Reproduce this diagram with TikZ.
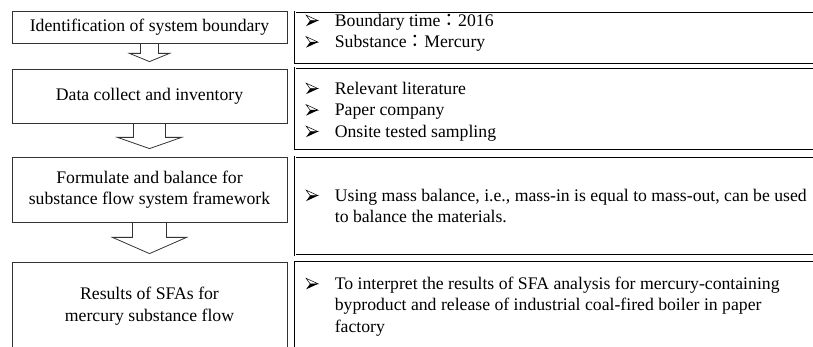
\documentclass[tikz,border=0pt]{standalone}
\usepackage{fontspec}
\setmainfont{Liberation Serif}
\newfontfamily\cjkfont{Noto Sans CJK TC}
\usepackage{tikz}
% arrowhead bullet with a fixed hanging indent
\newcommand{\bul}{\makebox[29pt][l]{\tikz[x=1pt,y=1pt,baseline=0pt]{%
  \draw[line width=0.5pt,line join=miter] (0,11) -- (12,5.5) -- (4,5.5) -- cycle;
  \fill[line join=miter] (4,5.5) -- (12,5.5) -- (0,0) -- cycle;}}}
\newcommand{\hang}{\hspace*{29pt}}
\newcommand{\fwcolon}{{\cjkfont ：}}

\begin{document}
\begin{tikzpicture}[
    x=1pt, y=-1pt,
    font=\fontsize{17.7}{21.5}\selectfont,
    stage/.style={draw=black!80, line width=0.8pt, minimum width=275pt,
                  inner sep=0pt, align=center},
    detail/.style={draw=black, line width=0.7pt, double, double distance=1pt,
                   minimum width=540pt, inner sep=0pt},
    note/.style={anchor=north west, inner sep=0pt, align=left},
    flow/.style={draw=black!80, line width=0.8pt, line join=miter}
]
\clip (0,0) rectangle (813,347);

% left column: the four steps
\node[stage, minimum height=32pt] (s1) at (149.5,27) {Identification of system boundary};
\node[stage, minimum height=54pt] (s2) at (149.5,96) {Data collect and inventory};
\node[stage, minimum height=65pt] (s3) at (149.5,189.5) {Formulate and balance for\\substance flow system framework};
\node[stage, minimum height=88pt] (s4) at (149.5,306) {Results of SFAs for\\mercury substance flow};

% block arrows between the steps
\draw[flow] ([xshift=-9pt]s1.south) |- ([xshift=-20pt,yshift=-10pt]s1.south) -- ([yshift=7pt]s2.north)
            -- ([xshift=20pt,yshift=-10pt]s1.south) -| ([xshift=9pt]s1.south);
\draw[flow] ([xshift=-16pt]s2.south) |- ([xshift=-32pt,yshift=-14pt]s2.south) -- ([yshift=8pt]s3.north)
            -- ([xshift=32pt,yshift=-14pt]s2.south) -| ([xshift=16pt]s2.south);
\draw[flow] ([xshift=-17pt]s3.south) |- ([xshift=-37pt,yshift=-15pt]s3.south) -- ([yshift=8pt]s4.north)
            -- ([xshift=37pt,yshift=-15pt]s3.south) -| ([xshift=17pt]s3.south);

% right column: details of each step
\node[detail, minimum height=51pt] (r1) at (565,37.5) {};
\node[note] (t1) at ([xshift=11pt,yshift=-2pt]r1.north west)
  {\bul Boundary time\fwcolon 2016\\
   \bul Substance\fwcolon Mercury};

\node[detail, minimum height=81pt] (r2) at (565,108.5) {};
\node[note] (t2) at ([xshift=11pt,yshift=-14pt]r2.north west)
  {\bul Relevant literature\\
   \bul Paper company\\
   \bul Onsite tested sampling};

\node[detail, minimum height=98pt] (r3) at (565,206) {};
\node[note] (t3) at ([xshift=11pt,yshift=-32pt]r3.north west)
  {\bul Using mass balance, i.e., mass-in is equal to mass-out, can be used\\
   \hang to balance the materials.};

\node[detail, minimum height=92pt] (r4) at (565,308) {};
\node[note] (t4) at ([xshift=11pt,yshift=-15pt]r4.north west)
  {\bul To interpret the results of SFA analysis for mercury-containing\\
   \hang byproduct and release of industrial coal-fired boiler in paper\\
   \hang factory};
\end{tikzpicture}
\end{document}
